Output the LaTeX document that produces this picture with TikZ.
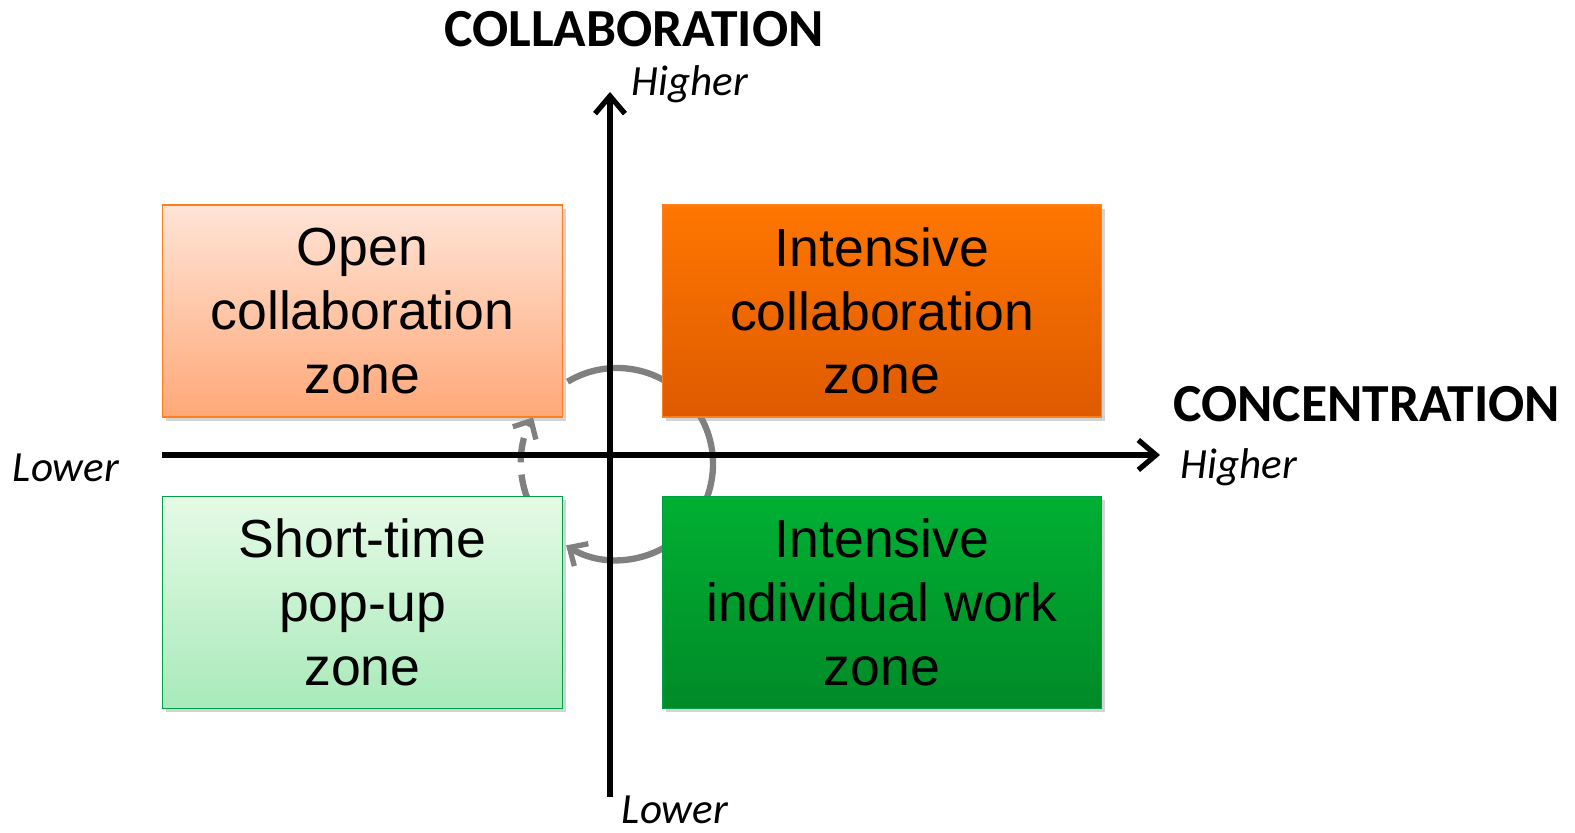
\documentclass[tikz,border=0pt]{standalone}
\usepackage{fontspec}
\setmainfont{Liberation Sans}
\newfontfamily\labelfont{Carlito}
\usepackage{tikz}
\usetikzlibrary{arrows.meta, positioning, shadows}
\definecolor{lightorange}{RGB}{255, 228, 215}
\definecolor{paleorange}{RGB}{255, 168, 120}
\definecolor{brightorange}{RGB}{255, 118, 0}
\definecolor{darkorange}{RGB}{222, 90, 0}
\definecolor{lightgreen}{RGB}{230, 250, 230}
\definecolor{palegreen}{RGB}{168, 234, 185}
\definecolor{brightgreen}{RGB}{0, 176, 50}
\definecolor{darkgreen}{RGB}{0, 138, 40}
\definecolor{edgeorange}{RGB}{255, 127, 30}
\definecolor{edgegreen}{RGB}{0, 160, 70}
\definecolor{cyclegray}{RGB}{128, 128, 128}
\tikzstyle{zone} = [rectangle, minimum height=4.24cm, text centered, align=center, line width=0.8pt, font=\fontsize{30.5}{36.3}\selectfont, drop shadow={opacity=0.35, shadow xshift=2pt, shadow yshift=-2pt}]
\tikzstyle{axis} = [line width=3.2pt, -{Straight Barb[length=10pt, width=17pt, line width=3pt]}]
\tikzstyle{cycle} = [line width=3.6pt, cyclegray, -{Straight Barb[length=8pt, width=15pt, line width=3pt]}]
\tikzstyle{axistitle} = [font=\labelfont\bfseries\fontsize{30.5}{36}\selectfont]
\tikzstyle{axisend} = [font=\labelfont\itshape\fontsize{24.5}{29}\selectfont]

\begin{document}
\begin{tikzpicture}
    \useasboundingbox (0, 0) rectangle (31.5, 16.66);

    % Cycle between zones
    \coordinate (hub) at (12.34, 7.38);
    \draw[cycle] (hub) ++(121:1.92) arc[start angle=121, end angle=-122, radius=1.92];
    \draw[cycle, dash pattern=on 14pt off 7pt] (hub) ++(201:1.92) arc[start angle=201, end angle=151, radius=1.92];

    % Axes
    \coordinate (xstart) at (3.24, 7.56);
    \coordinate (xend) at (23.2, 7.56);
    \coordinate (ystart) at (12.2, 0.72);
    \coordinate (yend) at (12.2, 14.82);
    \draw[axis] (xstart) -- (xend);
    \draw[axis] (ystart) -- (yend);

    % Zones
    \node[zone, minimum width=8.0cm, draw=edgeorange, top color=lightorange, bottom color=paleorange] (open) at (7.25, 10.44) {Open\\collaboration\\zone};
    \node[zone, minimum width=8.78cm, draw=edgeorange, top color=brightorange, bottom color=darkorange] (intcollab) at (17.64, 10.44) {Intensive\\collaboration\\zone};
    \node[zone, minimum width=8.0cm, draw=edgegreen, top color=lightgreen, bottom color=palegreen] (popup) at (7.25, 4.61) {Short-time\\pop-up\\zone};
    \node[zone, minimum width=8.78cm, draw=edgegreen, top color=brightgreen, bottom color=darkgreen] (intindiv) at (17.64, 4.61) {Intensive\\individual work\\zone};

    % Axis labels
    \node[axistitle] (collab) at (12.68, 16.08) {COLLABORATION};
    \node[axisend] (collabhigh) at (13.8, 14.98) {Higher};
    \node[axisend] (collablow) at (13.5, 0.47) {Lower};
    \node[axistitle] (concen) at (27.33, 8.58) {CONCENTRATION};
    \node[axisend] (concenhigh) at (24.78, 7.32) {Higher};
    \node[axisend] (concenlow) at (1.32, 7.3) {Lower};
\end{tikzpicture}
\end{document}
